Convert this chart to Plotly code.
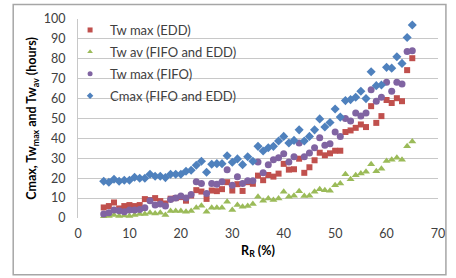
import plotly.graph_objects as go

rr = list(range(5, 66))

tw_max_edd = [5.3, 6, 7.8, 4.8, 6, 6.5, 6, 6.5, 9.5, 9, 10, 8.5, 7.3, 9.7, 10, 10.5, 8.7, 11.3,
              14, 13.3, 9.6, 13.8, 13.5, 14.5, 18, 13.8, 17, 13.6, 18, 17.2, 21.3, 19, 21.6, 20.8,
              22.3, 27.2, 24.3, 24.5, 29.8, 22.7, 25.5, 29, 32.8, 31.5, 32.5, 33.8, 33.8, 43.2,
              44, 45.3, 47, 45.7, 56.2, 47.8, 51.2, 59.3, 57.8, 60.2, 58.7, 74.3, 80.3]

tw_av = [0.7, 1, 1.5, 1, 1.2, 1, 1.5, 2, 2, 2.7, 2.3, 2.7, 1.5, 3.5, 3.5, 3.5, 3.2, 3.5, 5.2,
         6.2, 3.2, 5.2, 5.2, 5.2, 8.2, 4, 6.5, 5.7, 6, 7, 10.7, 8.7, 9.8, 9, 9.8, 13.2, 10.7,
         11.2, 13.5, 11, 11.2, 13.2, 14.5, 14, 13.7, 16.5, 17.3, 22, 19.5, 21.5, 22.3, 23.2,
         27, 23.5, 24.8, 28.7, 29.3, 30.3, 29.3, 36, 38.5]

tw_max_fifo = [2, 2.7, 4, 3.7, 3.2, 4, 4, 4.3, 5.2, 8.7, 6.5, 7, 6, 9.3, 10, 11, 10, 11.8,
               18.2, 17.3, 12.3, 17.3, 17, 18.2, 24.3, 16.5, 20.7, 17.3, 18.7, 18.7, 28.2, 22.7,
               26.8, 29.3, 30.3, 32.3, 28.2, 30.8, 37.7, 30.8, 32.7, 35.3, 40.3, 36.5, 37.3, 43.2,
               41, 50, 48.7, 52.8, 51.2, 52.8, 64.5, 58.7, 60.7, 68.2, 63.7, 68.2, 67.3, 83.7, 84]

cmax = [18.5, 18, 19.5, 18.5, 19, 19, 20.5, 20, 20, 22, 21, 21, 20.3, 22, 22, 22, 23.5, 24,
        26.5, 28.5, 23, 27, 27.3, 27.3, 31.3, 28, 29.7, 26.8, 30.8, 28.5, 36, 33.7, 35.3, 36,
        38.7, 41, 37.7, 39, 44.3, 38.7, 41, 44.3, 49.8, 45.7, 48, 54.8, 50.7, 59, 59.5, 60.7,
        63.7, 60, 73.5, 66.5, 66.8, 75.7, 75.3, 81, 77.7, 90.7, 97]

x_ticks = [0, 10, 20, 30, 40, 50, 60, 70]
y_ticks = [0, 10, 20, 30, 40, 50, 60, 70, 80, 90, 100]

series_names = ["Tw max (EDD)", "Tw av (FIFO and EDD)", "Tw max (FIFO)", "Cmax (FIFO and EDD)"]
series_values = [tw_max_edd, tw_av, tw_max_fifo, cmax]
series_colors = ["#C0504D", "#9BBB59", "#8064A2", "#4F81BD"]
series_symbols = ["square", "triangle-up", "circle", "diamond"]
series_sizes = [6, 7, 7, 7]
legend_sizes = [5, 5, 5, 5]

FONT = "Lato, 'Open Sans', sans-serif"

fig = go.Figure()
for name, vals, col, sym, sz in zip(series_names, series_values, series_colors,
                                    series_symbols, series_sizes):
    fig.add_trace(go.Scatter(x=rr, y=vals, mode="markers", name=name, showlegend=False,
                             legendgroup=name,
                             marker=dict(symbol=sym, size=sz, color=col)))
for name, col, sym, sz in zip(series_names, series_colors, series_symbols, legend_sizes):
    fig.add_trace(go.Scatter(x=[None], y=[None], mode="markers", name=name, showlegend=True,
                             legendgroup=name,
                             marker=dict(symbol=sym, size=sz, color=col)))

fig.update_layout(
    width=456, height=278,
    margin=dict(l=78, r=11, t=18, b=60),
    paper_bgcolor="white", plot_bgcolor="white",
    font=dict(family=FONT, size=12, color="#404040"),
    showlegend=True,
    legend=dict(x=-0.022, y=1.02, xanchor="left", yanchor="top",
                bgcolor="rgba(0,0,0,0)", font=dict(size=13, color="#404040"),
                itemwidth=30, tracegroupgap=2, traceorder="grouped"),
    xaxis=dict(range=[0, 70], tickvals=x_ticks, showgrid=False, zeroline=False,
               showline=False, ticks="", ticklabelstandoff=6,
               tickfont=dict(size=12.5, color="#404040"),
               title=dict(text="<b>R<sub>R</sub> (%)</b>", standoff=6,
                          font=dict(size=12.5, color="#000000"))),
    yaxis=dict(range=[0, 100], tickvals=y_ticks, showgrid=True, gridcolor="#C8C8C8",
               gridwidth=1, zeroline=False, showline=True, linecolor="#C8C8C8",
               ticks="", ticklabelstandoff=9,
               tickfont=dict(size=12.5, color="#404040"),
               title=dict(text="<b>Cmax, Tw<sub>max</sub> and Tw<sub>av</sub> (hours)</b>",
                          standoff=4, font=dict(size=12.5, color="#000000"))),
)

fig.add_shape(type="rect", xref="paper", yref="paper", x0=-0.18, x1=1.022, y0=-0.285, y1=1.073,
              line=dict(color="#A6A6A6", width=1.5), fillcolor="rgba(0,0,0,0)", layer="above")

fig.write_html("out.html", config={"displayModeBar": False},
               post_script="document.body.style.margin='0';document.body.style.overflow='hidden';")
